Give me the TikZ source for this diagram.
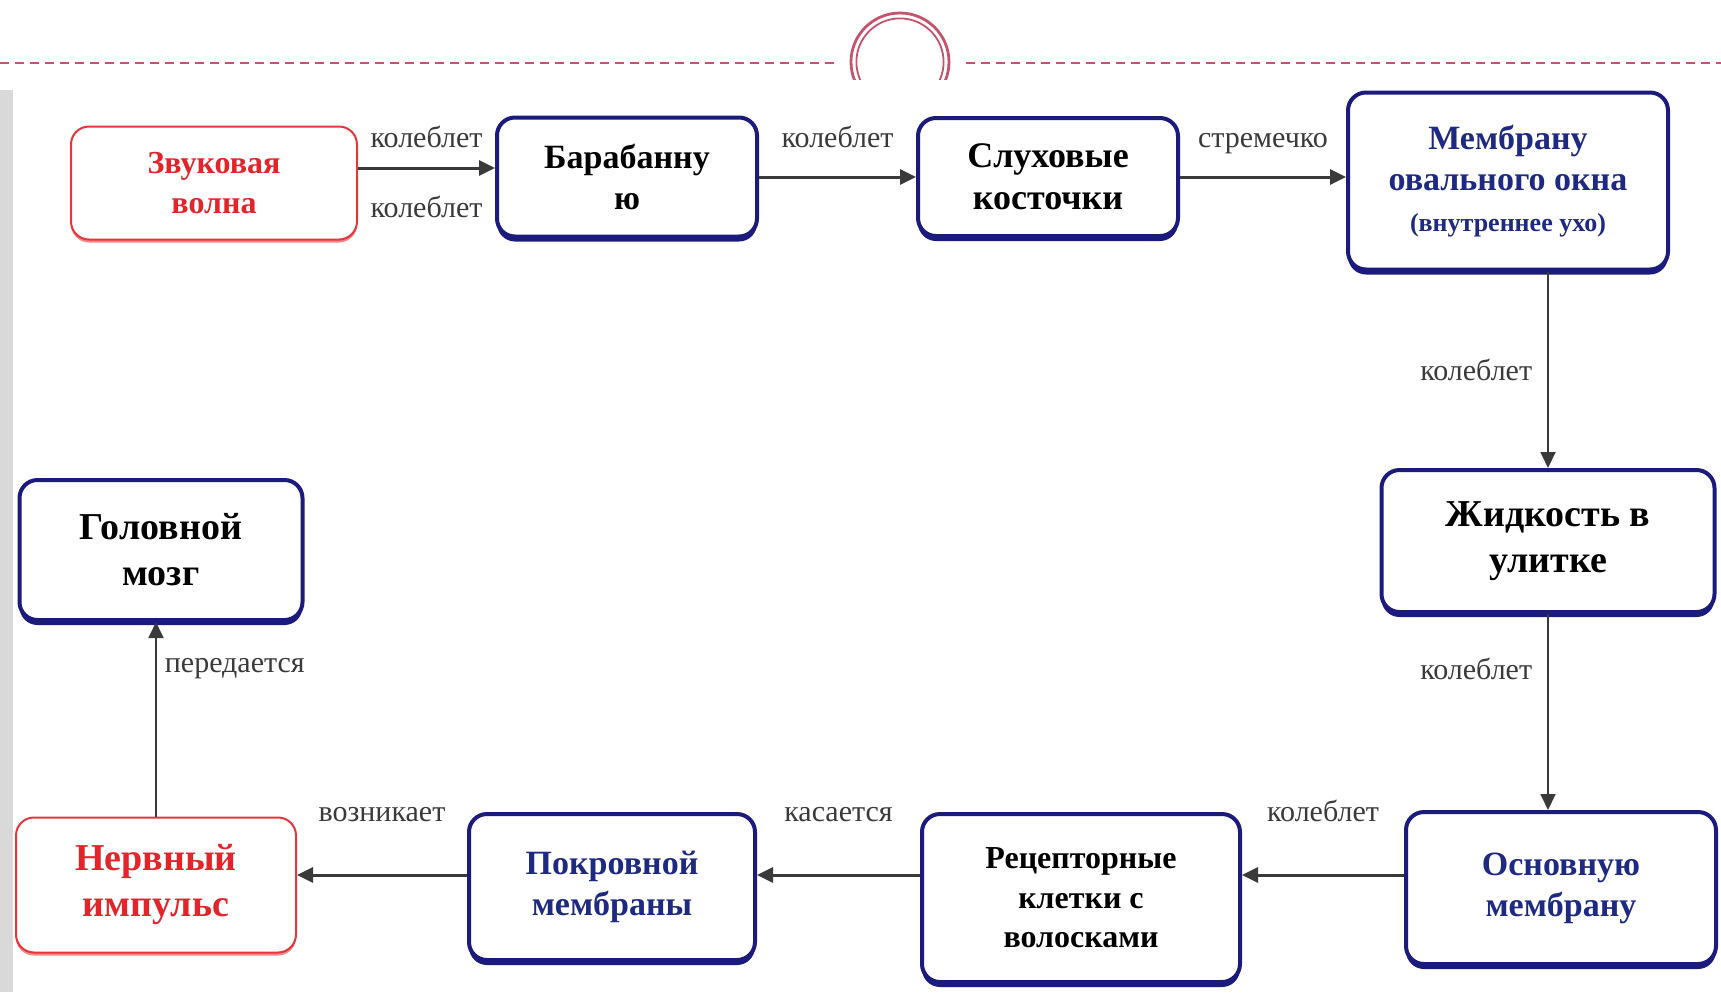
\documentclass[tikz,border=0pt]{standalone}
\usepackage{fontspec}
\setmainfont{Liberation Serif}
\usepackage{tikz}
\usetikzlibrary{arrows.meta,positioning,shadows}
\definecolor{boxnavy}{HTML}{1B1B7E}
\definecolor{boxred}{HTML}{E8353B}
\definecolor{textnavy}{HTML}{1E2A82}
\definecolor{textred}{HTML}{E3242B}
\definecolor{themerose}{HTML}{C4546E}
\definecolor{bargray}{HTML}{D9D9D9}
\definecolor{linkgray}{HTML}{3A3A3A}
\tikzset{
  blockbase/.style={rounded corners=9pt, fill=white, align=center, inner sep=0pt,
    font=\bfseries\fontsize{17}{20.5}\selectfont},
  block/.style={blockbase, draw=boxnavy, line width=2pt,
    general shadow={fill=boxnavy, shadow yshift=-2.5pt}},
  redblock/.style={blockbase, draw=boxred, line width=1pt, text=textred,
    general shadow={fill=boxred!60, shadow yshift=-1.5pt}},
  bigtext/.style={font=\bfseries\fontsize{19}{23}\selectfont},
  lbl/.style={font=\fontsize{15}{17}\selectfont, text=linkgray, inner sep=0pt},
  arrow/.style={-{Triangle[length=8pt,width=7.5pt]}, line width=1.5pt, draw=linkgray},
  thinarrow/.style={arrow, line width=0.9pt}
}

\begin{document}
\begin{tikzpicture}[x=0.5pt, y=-0.5pt]
  \useasboundingbox (0,0) rectangle (1721,992);
  % slide decoration
  \fill[bargray] (0,90) rectangle (13,992);
  \draw[themerose, line width=1pt, dash pattern=on 4.5pt off 3pt] (0,63) -- (834,63);
  \draw[themerose, line width=1pt, dash pattern=on 4.5pt off 3pt] (966,63) -- (1721,63);
  \begin{scope}
    \clip (840,0) rectangle (960,79);
    \draw[themerose, line width=1.4pt] (900,62) circle[radius=24.5pt];
    \draw[themerose, line width=0.9pt] (900,62) circle[radius=21.8pt];
  \end{scope}

  % top row
  \node[redblock, font=\bfseries\fontsize{16}{20}\selectfont, minimum width=143pt, minimum height=56.5pt] (sound) at (214,183) {Звуковая\\волна};
  \node[block, minimum width=130pt, minimum height=59.5pt] (drum) at (627,177) {Барабанну\\ю};
  \node[block, font=\bfseries\fontsize{18}{21}\selectfont, minimum width=130pt, minimum height=59pt] (bones) at (1048,177) {Слуховые\\косточки};
  \node[block, text=textnavy, minimum width=160pt, minimum height=88.5pt] (oval) at (1508,181)
    {Мембрану\\овального окна\\{\fontsize{13}{16}\selectfont (внутреннее ухо)}};
  % right column
  \node[block, bigtext, minimum width=166.5pt, minimum height=71pt] (fluid) at (1548,541) {Жидкость в\\улитке};
  \node[block, text=textnavy, minimum width=155pt, minimum height=76pt] (basilar) at (1561,888) {Основную\\мембрану};
  % bottom row
  \node[block, font=\bfseries\fontsize{16}{19.8}\selectfont, minimum width=159pt, minimum height=84pt] (receptor) at (1081,898) {Рецепторные\\клетки с\\волосками};
  \node[block, text=textnavy, minimum width=143pt, minimum height=73pt] (cover) at (612,887) {Покровной\\мембраны};
  \node[redblock, bigtext, minimum width=140pt, minimum height=67.5pt] (impulse) at (156,885) {Нервный\\импульс};
  \node[block, bigtext, minimum width=141.5pt, minimum height=70pt] (brain) at (161,550) {Головной\\мозг};

  \coordinate (low) at ([yshift=6.5pt]basilar.west);

  \draw[arrow] ([yshift=7.5pt]sound.east) -- ([yshift=7.5pt]sound.east -| drum.west)
    node[lbl, midway, above=9.5pt] {колеблет}
    node[lbl, midway, below=13.5pt] {колеблет};
  \draw[arrow] (drum.east) -- (drum.east -| bones.west)
    node[lbl, midway, above=14pt] {колеблет};
  \draw[arrow] (bones.east) -- (bones.east -| oval.west)
    node[lbl, midway, above=11pt] {стремечко};
  \draw[thinarrow] (fluid.north |- oval.south) -- (fluid.north)
    node[lbl, midway, left=7.5pt] {колеблет};
  \draw[thinarrow] (fluid.south) -- (fluid.south |- basilar.north)
    node[lbl, pos=0.28, left=7.5pt] {колеблет};
  \draw[arrow] (low) -- (low -| receptor.east)
    node[lbl, midway, above=26pt] {колеблет};
  \draw[arrow] (low -| receptor.west) -- (low -| cover.east)
    node[lbl, midway, above=26pt] {касается};
  \draw[arrow] (low -| cover.west) -- (low -| impulse.east)
    node[lbl, midway, above=26pt] {возникает};
  \draw[thinarrow] (impulse.north) -- (impulse.north |- brain.south)
    node[lbl, pos=0.76, right=4pt] {передается};
\end{tikzpicture}
\end{document}
